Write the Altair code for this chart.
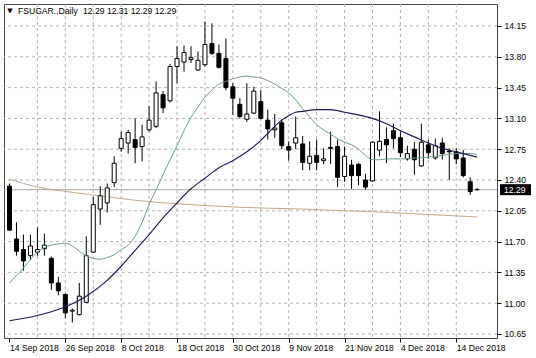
import altair as alt
import pandas as pd

FONT = "Liberation Sans"

symbol = "FSUGAR."
timeframe = "Daily"
last_ohlc = ["12.29", "12.31", "12.29", "12.29"]
last_price = 12.29

bar_index = list(range(68))
opens = [12.33, 11.73, 11.61, 11.54, 11.58, 11.62, 11.51, 11.23, 11.10, 10.91,
         10.87, 11.01, 11.58, 12.07, 12.14, 12.37, 12.76, 12.82, 12.86, 12.78,
         12.97, 13.01, 13.37, 13.30, 13.69, 13.74, 13.77, 13.65, 13.71, 13.95,
         13.84, 13.78, 13.46, 13.26, 13.09, 13.16, 13.29, 13.08, 12.97, 13.05,
         12.78, 12.82, 12.81, 12.59, 12.68, 12.62, 12.77, 12.78, 12.44, 12.57,
         12.58, 12.40, 12.39, 12.74, 12.86, 12.96, 12.88, 12.64, 12.75, 12.56,
         12.80, 12.65, 12.82, 12.73, 12.72, 12.65, 12.38, 12.29]
highs = [12.36, 11.92, 11.78, 11.78, 11.86, 11.79, 11.53, 11.30, 11.11, 10.94,
         11.23, 11.76, 12.21, 12.33, 12.36, 12.67, 12.95, 12.97, 13.10, 13.03,
         13.24, 13.52, 13.41, 13.72, 13.92, 13.93, 13.92, 13.86, 14.20, 14.18,
         13.94, 14.01, 13.50, 13.33, 13.50, 13.46, 13.42, 13.20, 13.15, 13.09,
         12.84, 13.12, 12.90, 12.84, 12.86, 12.76, 12.95, 12.86, 12.78, 12.63,
         12.59, 12.47, 12.84, 13.18, 13.00, 13.04, 12.95, 12.79, 12.83, 13.04,
         12.86, 12.87, 12.88, 12.76, 12.76, 12.74, 12.43, 12.31]
lows = [11.82, 11.54, 11.37, 11.49, 11.54, 11.54, 11.15, 11.09, 10.83, 10.78,
        10.86, 11.00, 11.57, 11.89, 12.03, 12.32, 12.72, 12.70, 12.59, 12.61,
        12.95, 12.99, 13.16, 13.28, 13.50, 13.63, 13.73, 13.64, 13.69, 13.82,
        13.67, 13.42, 13.14, 13.10, 13.06, 13.15, 13.09, 12.86, 12.88, 12.75,
        12.62, 12.75, 12.51, 12.51, 12.51, 12.58, 12.58, 12.32, 12.38, 12.30,
        12.34, 12.29, 12.38, 12.67, 12.59, 12.76, 12.66, 12.62, 12.46, 12.55,
        12.64, 12.63, 12.63, 12.40, 12.58, 12.43, 12.23, 12.29]
closes = [11.83, 11.59, 11.48, 11.65, 11.61, 11.66, 11.23, 11.14, 10.89, 10.92,
          11.08, 11.54, 12.12, 12.22, 12.31, 12.59, 12.87, 12.94, 12.77, 12.89,
          13.08, 13.39, 13.22, 13.69, 13.78, 13.85, 13.79, 13.76, 13.94, 13.84,
          13.68, 13.45, 13.33, 13.12, 13.15, 13.41, 13.10, 12.98, 12.99, 12.79,
          12.74, 12.88, 12.60, 12.67, 12.60, 12.64, 12.76, 12.43, 12.67, 12.45,
          12.45, 12.32, 12.83, 12.84, 12.80, 12.87, 12.71, 12.70, 12.63, 12.83,
          12.71, 12.79, 12.70, 12.72, 12.64, 12.45, 12.27, 12.29]

# moving averages (bar index, value)
ma_fast_bars = [0, 2, 4, 6, 8, 9, 10, 11, 12, 13, 14, 15, 16, 17, 18, 19, 20, 21, 22, 23,
                24, 25, 26, 27, 28, 29, 30, 31, 32, 33, 34, 35, 36, 37, 38, 39, 40, 41, 42,
                43, 44, 45, 46, 47, 48, 49, 50, 51, 52, 53, 54, 56, 58, 60, 62, 64, 66, 67]
ma_fast_vals = [11.23, 11.40, 11.58, 11.66, 11.68, 11.65, 11.59, 11.54, 11.51, 11.50,
                11.52, 11.55, 11.61, 11.66, 11.76, 11.92, 12.12, 12.29, 12.46, 12.63,
                12.79, 12.96, 13.11, 13.23, 13.34, 13.42, 13.49, 13.52, 13.55, 13.57,
                13.58, 13.57, 13.56, 13.53, 13.49, 13.44, 13.39, 13.31, 13.21, 13.12,
                13.03, 12.97, 12.92, 12.87, 12.83, 12.80, 12.75, 12.68, 12.63, 12.63,
                12.64, 12.64, 12.65, 12.66, 12.68, 12.70, 12.70, 12.69]
ma_mid_bars = [0, 4, 8, 11, 14, 16, 18, 20, 22, 24, 26, 28, 30, 32, 34, 36, 37, 38, 39, 40,
               41, 42, 44, 46, 48, 50, 52, 54, 56, 58, 60, 62, 64, 66, 67]
ma_mid_vals = [10.80, 10.86, 10.96, 11.08, 11.26, 11.42, 11.60, 11.78, 11.97, 12.14,
               12.30, 12.42, 12.54, 12.62, 12.72, 12.85, 12.93, 13.01, 13.08, 13.13,
               13.17, 13.18, 13.20, 13.20, 13.17, 13.14, 13.10, 13.04, 12.96, 12.89,
               12.82, 12.76, 12.72, 12.68, 12.66]
ma_slow_bars = [0, 4, 9, 14, 18, 24, 28, 33, 37, 42, 48, 52, 57, 62, 67]
ma_slow_vals = [12.41, 12.32, 12.26, 12.21, 12.17, 12.13, 12.11, 12.09, 12.08, 12.07,
                12.05, 12.04, 12.02, 12.00, 11.98]

tick_bars = [0, 8, 16, 24, 32, 40, 48, 56, 64]
tick_labels = ["14 Sep 2018", "26 Sep 2018", "8 Oct 2018", "18 Oct 2018", "30 Oct 2018",
               "9 Nov 2018", "21 Nov 2018", "4 Dec 2018", "14 Dec 2018"]
grid_bars = [4, 8, 12, 16, 20, 24, 28, 32, 36, 40, 44, 48, 52, 56, 60, 64]
price_ticks = [10.65, 11.00, 11.35, 11.70, 12.05, 12.40, 12.75, 13.10, 13.45, 13.80, 14.15]

# ---------------------------------------------------------------------------
df = pd.DataFrame({"i": bar_index, "open": opens, "high": highs, "low": lows, "close": closes})

xscale = alt.Scale(domain=[-0.07, 69.12], nice=False, zero=False)
yscale = alt.Scale(domain=[10.6045, 14.40], nice=False, zero=False)

label_expr = ("[" + ",".join("'%s'" % s for s in tick_labels) + "][indexof(["
              + ",".join(str(b) for b in tick_bars) + "], datum.value)]")

xaxis = alt.Axis(values=tick_bars, labelExpr=label_expr, title=None, grid=False, domain=False,
                 tickSize=4, tickColor="black", labelAlign="left", labelFlush=False,
                 labelOverlap=False, labelBound=False, labelPadding=1, labelFont=FONT,
                 labelFontSize=8.6, labelColor="black", orient="bottom")
yaxis = alt.Axis(values=price_ticks, format=".2f", title=None, grid=False, domain=False,
                 tickSize=4, tickColor="black", orient="right", labelPadding=3,
                 labelFont=FONT, labelFontSize=8.6, labelColor="black", labelFlush=False,
                 labelOverlap=False, labelBound=False)


def X(f):
    return alt.X(f, type="quantitative", scale=xscale, axis=xaxis)


def Y(f):
    return alt.Y(f, type="quantitative", scale=yscale, axis=yaxis)


GRID = "#b4b4b4"
hgrid = alt.Chart(pd.DataFrame({"p": price_ticks})).mark_rule(
    color=GRID, strokeDash=[3, 3], strokeWidth=1).encode(y=Y("p"))
vgrid = alt.Chart(pd.DataFrame({"b": grid_bars})).mark_rule(
    color=GRID, strokeDash=[3, 3], strokeWidth=1).encode(x=X("b"))
pline = alt.Chart(pd.DataFrame({"p": [last_price]})).mark_rule(
    color="#a6a6a6", strokeWidth=1).encode(y=Y("p"))


def ma_line(bars, vals, color, width):
    return alt.Chart(pd.DataFrame({"b": bars, "v": vals})).mark_line(
        color=color, strokeWidth=width, interpolate="monotone", clip=True
    ).encode(x=X("b"), y=Y("v"))


ma_slow = ma_line(ma_slow_bars, ma_slow_vals, "#c9a781", 1)
ma_fast = ma_line(ma_fast_bars, ma_fast_vals, "#6a9f8b", 1)
ma_mid = ma_line(ma_mid_bars, ma_mid_vals, "#1c1c52", 1.15)

wicks = alt.Chart(df).mark_rule(color="black", strokeWidth=1, clip=True).encode(
    x=X("i"), y=Y("low"), y2=alt.Y2("high"))
bodies = alt.Chart(df).mark_bar(size=4, stroke="black", strokeWidth=1, clip=True).encode(
    x=X("i"), y=Y("open"), y2=alt.Y2("close"),
    fill=alt.condition("datum.close >= datum.open", alt.value("white"), alt.value("black")))

lbl_src = alt.Chart(pd.DataFrame({"p": [last_price]}))
box = lbl_src.mark_rect(color="black", yOffset=-5.5, y2Offset=5.5).encode(
    x=alt.value(496), x2=alt.value(527), y=Y("p"), y2=alt.Y2("p"))
box_text = lbl_src.mark_text(color="white", align="left", baseline="middle", font=FONT,
                             fontSize=8.6).encode(
    x=alt.value(500), y=Y("p"), text=alt.Text("p:Q", format=".2f"))

head = alt.Chart(pd.DataFrame({"name": [symbol + "," + timeframe],
                               "vals": [" ".join(last_ohlc)]}))
tri = head.mark_text(text="\u25bc", font="DejaVu Sans", fontSize=7, color="black",
                     align="center", baseline="middle").encode(x=alt.value(6), y=alt.value(7))
name_text = head.mark_text(font=FONT, fontSize=8.6, color="black", align="left",
                           baseline="middle").encode(x=alt.value(14), y=alt.value(7),
                                                     text="name:N")
vals_text = head.mark_text(font=FONT, fontSize=8.6, color="black", align="left",
                           baseline="middle").encode(x=alt.value(79), y=alt.value(7),
                                                     text="vals:N")

chart = alt.layer(
    hgrid, vgrid, pline, ma_slow, wicks, bodies, ma_fast, ma_mid,
    box, box_text, tri, name_text, vals_text
).properties(
    width=493, height=334,
    padding={"left": 4, "top": 4, "right": 39, "bottom": 20},
    autosize=alt.AutoSizeParams(type="none"),
    background="white",
).configure_view(stroke="#454545", strokeWidth=1)

chart.save("out.html", embed_options={"renderer": "svg", "actions": False})
